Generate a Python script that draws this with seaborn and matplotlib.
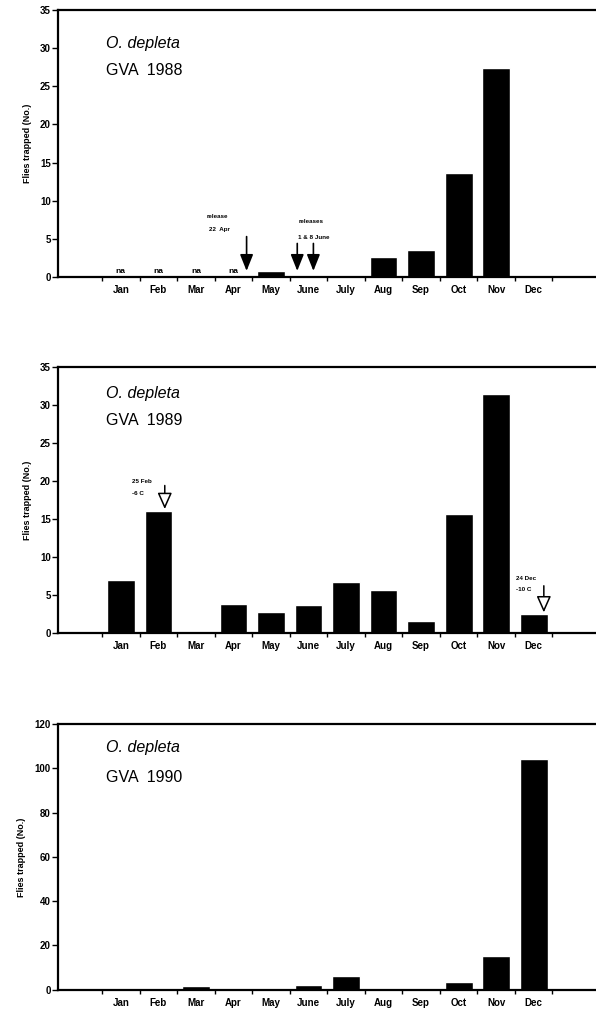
import matplotlib
matplotlib.use("Agg")
import matplotlib.pyplot as plt
import pandas as pd
import seaborn as sns

months = ["Jan", "Feb", "Mar", "Apr", "May", "June", "July", "Aug", "Sep", "Oct", "Nov", "Dec"]
flies_1988 = [0, 0, 0, 0, 0.8, 0, 0, 2.6, 3.5, 13.6, 27.4, 0]
flies_1989 = [7.0, 16.0, 0, 3.8, 2.8, 3.7, 6.7, 5.7, 1.6, 15.6, 31.4, 2.5]
flies_1990 = [0, 0, 1.6, 0, 0, 2.2, 6.3, 0, 0.5, 3.6, 15.3, 104]
na_months_1988 = ["Jan", "Feb", "Mar", "Apr"]
years = ["1988", "1989", "1990"]
ymax = [35, 35, 120]
ystep = [5, 5, 20]

sns.set_style("ticks")
plt.rcParams["font.family"] = ["Liberation Sans", "DejaVu Sans"]
plt.rcParams["font.weight"] = "bold"
for key in ["text.color", "axes.labelcolor", "xtick.color", "ytick.color", "axes.edgecolor"]:
    plt.rcParams[key] = "black"

fig = plt.figure(figsize=(5.96, 10.11), dpi=100)
boxes = [
    [0.097, 0.726, 0.903, 0.264],
    [0.097, 0.374, 0.903, 0.263],
    [0.097, 0.021, 0.903, 0.263],
]
label_y = [(0.876, 0.775), (0.90, 0.80), (0.91, 0.80)]

for k, (vals, year) in enumerate(zip([flies_1988, flies_1989, flies_1990], years)):
    ax = fig.add_axes(boxes[k])
    df = pd.DataFrame({"month": months, "flies": vals})
    sns.barplot(data=df, x="month", y="flies", order=months, color="black",
                width=0.74, saturation=1, ax=ax)
    ax.set_xlim(-1.68, 12.66)
    ax.set_ylim(0, ymax[k])
    ax.set_yticks(range(0, ymax[k] + 1, ystep[k]))
    ax.set_xticks(range(12))
    ax.set_xticklabels(months, fontsize=7, fontweight="bold")
    ax.set_xticks([i - 0.5 for i in range(13)], minor=True)
    ax.tick_params(axis="x", which="major", length=0, pad=6)
    ax.tick_params(axis="x", which="minor", length=3, width=1, direction="out")
    ax.tick_params(axis="y", length=4, width=1, labelsize=7, pad=1)
    for lab in ax.get_yticklabels():
        lab.set_fontweight("bold")
    ax.set_xlabel("")
    ax.set_ylabel("Flies trapped (No.)", fontsize=6.5, fontweight="bold", labelpad=6)
    ax.spines["right"].set_visible(False)
    for s in ["left", "top", "bottom"]:
        ax.spines[s].set_linewidth(1.6)
    ax.text(0.089, label_y[k][0], "O. depleta", transform=ax.transAxes,
            fontsize=11.5, style="italic", fontweight="normal", va="center")
    ax.text(0.089, label_y[k][1], f"GVA  {year}", transform=ax.transAxes,
            fontsize=11.5, fontweight="normal", va="center")

    if year == "1988":
        for m in na_months_1988:
            ax.text(months.index(m), 0.3, "na", ha="center", va="bottom", fontsize=6)
        ax.text(2.58, 7.9, "release", ha="center", va="center", fontsize=4.5)
        ax.text(2.62, 6.2, "22  Apr", ha="center", va="center", fontsize=4.5)
        ax.text(5.08, 7.3, "releases", ha="center", va="center", fontsize=4.5)
        ax.text(5.15, 5.2, "1 & 8 June", ha="center", va="center", fontsize=4.5)
        for xa, tail in [(3.35, 5.3), (4.7, 4.4), (5.13, 4.4)]:
            ax.annotate("", xy=(xa, 0.8), xytext=(xa, tail),
                        arrowprops=dict(arrowstyle="-|>,head_length=1.0,head_width=0.4",
                                        color="black", lw=1.2, mutation_scale=10,
                                        shrinkA=0, shrinkB=0))
    if year == "1989":
        ax.text(0.29, 19.9, "25 Feb", ha="left", va="center", fontsize=4.5)
        ax.text(0.29, 18.3, "-6 C", ha="left", va="center", fontsize=4.5)
        ax.text(10.53, 7.2, "24 Dec", ha="left", va="center", fontsize=4.5)
        ax.text(10.53, 5.7, "-10 C", ha="left", va="center", fontsize=4.5)
        for xa, tail, head in [(1.17, 19.4, 16.3), (11.27, 6.2, 2.7)]:
            ax.annotate("", xy=(xa, head), xytext=(xa, tail),
                        arrowprops=dict(arrowstyle="-|>,head_length=0.9,head_width=0.4",
                                        facecolor="white", edgecolor="black", lw=1.1,
                                        mutation_scale=11, shrinkA=0, shrinkB=0))

fig.savefig("out.png", dpi=100)
